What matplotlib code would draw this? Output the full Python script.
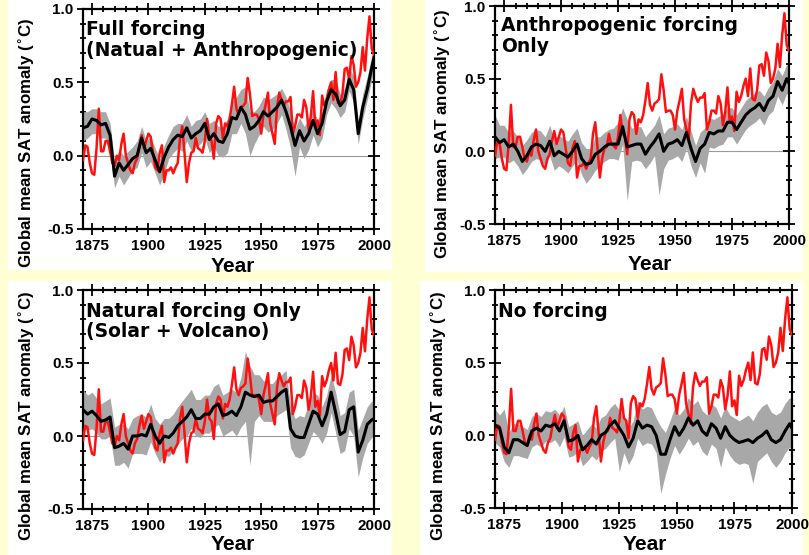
"""Observed vs simulated global mean surface air temperature, four forcing experiments."""
import matplotlib
matplotlib.use('Agg')
import matplotlib.pyplot as plt
from matplotlib.patches import Rectangle
from matplotlib.ticker import MultipleLocator, FormatStrFormatter
import numpy as np

W, H = 809, 555

# Observed annual anomalies (degC), 1871-2000
OBS_YEARS = np.arange(1871, 2001)
OBS = [
    -0.03, 0.07, 0.06, -0.05, -0.12, -0.13, 0.05, 0.32, 0.03, 0.03,
    0.10, 0.10, 0.03, -0.05, -0.07, 0.00, -0.03, 0.08, 0.15, 0.00,
    -0.05, -0.10, -0.12, -0.05, -0.02, 0.07, 0.14, 0.05, 0.10, 0.15,
    0.13, 0.02, -0.08, -0.10, 0.02, 0.07, -0.18, -0.10, -0.10, -0.08,
    -0.12, -0.08, -0.05, 0.12, 0.20, 0.02, -0.18, -0.05, 0.02, 0.03,
    0.12, 0.05, 0.04, 0.02, 0.10, 0.25, 0.12, 0.10, -0.02, 0.22,
    0.27, 0.25, 0.12, 0.22, 0.20, 0.25, 0.35, 0.47, 0.32, 0.28,
    0.33, 0.34, 0.36, 0.53, 0.42, 0.27, 0.28, 0.28, 0.25, 0.15,
    0.28, 0.35, 0.43, 0.22, 0.15, 0.08, 0.33, 0.43, 0.38, 0.34,
    0.37, 0.37, 0.40, 0.15, 0.20, 0.28, 0.28, 0.26, 0.38, 0.33,
    0.18, 0.27, 0.44, 0.20, 0.24, 0.14, 0.41, 0.34, 0.38, 0.45,
    0.50, 0.38, 0.57, 0.36, 0.35, 0.42, 0.59, 0.60, 0.52, 0.68,
    0.62, 0.47, 0.50, 0.57, 0.74, 0.58, 0.80, 0.95, 0.73, 0.69,
]

# Model ensemble mean and spread, sampled every other year
MODEL_YEARS = list(range(1871, 2000, 2)) + [2000]

FULL_MEAN = [
    0.19, 0.20, 0.25, 0.24, 0.21, 0.22, 0.14, -0.14, -0.05, -0.10,
    -0.06, -0.02, 0.00, 0.12, 0.02, 0.05, -0.03, -0.11, -0.01, 0.06,
    0.11, 0.14, 0.13, 0.19, 0.12, 0.15, 0.17, 0.22, 0.11, 0.15,
    0.10, 0.09, 0.15, 0.26, 0.25, 0.33, 0.28, 0.18, 0.20, 0.24,
    0.30, 0.27, 0.30, 0.33, 0.38, 0.30, 0.20, 0.07, 0.17, 0.10,
    0.15, 0.24, 0.15, 0.22, 0.37, 0.45, 0.42, 0.34, 0.38, 0.52,
    0.45, 0.15, 0.33, 0.45, 0.60, 0.67,
]
FULL_LO = [
    0.10, 0.12, 0.15, 0.15, 0.12, 0.12, 0.02, -0.22, -0.14, -0.20,
    -0.15, -0.10, -0.08, 0.02, -0.08, -0.04, -0.12, -0.20, -0.12, -0.02,
    0.02, 0.05, 0.03, 0.10, 0.03, 0.06, 0.08, 0.12, 0.02, 0.06,
    0.00, -0.01, 0.02, 0.15, 0.15, 0.22, 0.15, 0.00, 0.08, 0.14,
    0.20, 0.16, 0.18, 0.22, 0.28, 0.18, 0.05, -0.14, 0.06, -0.02,
    0.04, 0.14, 0.06, 0.12, 0.28, 0.36, 0.32, 0.26, 0.30, 0.44,
    0.36, 0.08, 0.25, 0.38, 0.52, 0.60,
]
FULL_HI = [
    0.30, 0.30, 0.32, 0.32, 0.30, 0.30, 0.22, -0.04, 0.04, 0.00,
    0.03, 0.06, 0.10, 0.20, 0.10, 0.13, 0.05, -0.02, 0.07, 0.14,
    0.20, 0.22, 0.22, 0.28, 0.20, 0.24, 0.25, 0.30, 0.22, 0.24,
    0.20, 0.20, 0.25, 0.36, 0.40, 0.45, 0.47, 0.30, 0.30, 0.34,
    0.40, 0.38, 0.40, 0.42, 0.46, 0.40, 0.30, 0.18, 0.26, 0.20,
    0.25, 0.32, 0.24, 0.30, 0.45, 0.52, 0.52, 0.42, 0.46, 0.60,
    0.54, 0.24, 0.42, 0.54, 0.68, 0.74,
]

ANTH_MEAN = [
    0.10, 0.06, 0.08, 0.03, 0.05, 0.00, -0.07, -0.03, 0.03, 0.05,
    0.04, 0.00, 0.07, -0.03, 0.00, -0.02, -0.04, 0.00, 0.05, -0.05,
    -0.09, -0.08, -0.02, 0.00, 0.03, 0.05, 0.05, 0.05, 0.17, 0.03,
    0.04, 0.05, 0.05, -0.02, 0.03, 0.07, 0.12, 0.00, 0.05, 0.06,
    0.08, 0.04, 0.13, 0.02, -0.07, 0.02, 0.05, 0.13, 0.12, 0.14,
    0.14, 0.20, 0.20, 0.15, 0.20, 0.25, 0.28, 0.30, 0.33, 0.28,
    0.35, 0.38, 0.48, 0.42, 0.50, 0.47,
]
ANTH_LO = [
    -0.05, -0.04, -0.04, -0.08, -0.06, -0.10, -0.16, -0.12, -0.07, -0.05,
    -0.06, -0.10, -0.03, -0.13, -0.10, -0.12, -0.15, -0.10, -0.06, -0.16,
    -0.22, -0.18, -0.13, -0.10, -0.07, -0.05, -0.05, -0.06, 0.05, -0.34,
    -0.07, -0.06, -0.07, -0.12, -0.08, -0.03, -0.30, -0.12, -0.06, -0.05,
    -0.03, -0.07, 0.02, -0.10, -0.18, -0.08, -0.15, 0.03, 0.02, 0.04,
    0.05, 0.10, 0.10, 0.05, 0.10, 0.15, 0.18, 0.20, 0.23, 0.18,
    0.25, 0.28, 0.38, 0.32, 0.40, 0.38,
]
ANTH_HI = [
    0.25, 0.18, 0.18, 0.13, 0.14, 0.10, 0.04, 0.08, 0.13, 0.15,
    0.14, 0.10, 0.18, 0.08, 0.11, 0.09, 0.07, 0.12, 0.16, 0.06,
    0.02, 0.02, 0.10, 0.10, 0.13, 0.15, 0.16, 0.20, 0.30, 0.22,
    0.16, 0.17, 0.17, 0.10, 0.14, 0.18, 0.25, 0.12, 0.16, 0.17,
    0.19, 0.15, 0.24, 0.14, 0.04, 0.13, 0.16, 0.23, 0.22, 0.24,
    0.25, 0.30, 0.30, 0.25, 0.30, 0.35, 0.38, 0.40, 0.42, 0.38,
    0.44, 0.48, 0.57, 0.52, 0.60, 0.56,
]

NAT_MEAN = [
    0.18, 0.15, 0.17, 0.14, 0.10, 0.11, 0.13, -0.08, -0.07, -0.05,
    -0.09, 0.00, 0.00, 0.01, 0.00, 0.08, 0.00, -0.05, 0.00, -0.01,
    0.02, 0.07, 0.10, 0.13, 0.18, 0.12, 0.12, 0.15, 0.15, 0.20,
    0.22, 0.14, 0.15, 0.17, 0.14, 0.20, 0.30, 0.28, 0.27, 0.28,
    0.23, 0.24, 0.24, 0.27, 0.30, 0.32, 0.05, 0.00, -0.01, -0.01,
    0.08, 0.17, 0.15, 0.07, 0.15, 0.30, 0.16, 0.01, 0.03, 0.18,
    0.20, -0.11, -0.03, 0.08, 0.11, 0.12,
]
NAT_LO = [
    0.05, 0.04, 0.05, 0.02, -0.02, -0.02, 0.00, -0.20, -0.20, -0.18,
    -0.22, -0.12, -0.12, -0.12, -0.13, -0.04, -0.12, -0.18, -0.13, -0.14,
    -0.10, -0.06, -0.02, 0.00, 0.05, 0.00, -0.01, 0.02, 0.02, 0.06,
    0.08, 0.00, 0.02, 0.04, 0.00, 0.06, 0.10, -0.20, 0.10, 0.14,
    0.10, 0.10, 0.10, 0.14, 0.16, 0.18, -0.08, -0.14, -0.15, -0.13,
    -0.05, 0.03, 0.00, -0.05, 0.02, 0.16, 0.02, -0.12, -0.10, 0.05,
    0.00, -0.28, -0.15, -0.05, -0.01, 0.00,
]
NAT_HI = [
    0.32, 0.28, 0.30, 0.26, 0.22, 0.24, 0.26, 0.06, 0.08, 0.08,
    0.05, 0.12, 0.14, 0.15, 0.13, 0.22, 0.12, 0.08, 0.12, 0.12,
    0.15, 0.20, 0.24, 0.28, 0.32, 0.25, 0.25, 0.28, 0.28, 0.34,
    0.36, 0.28, 0.30, 0.32, 0.30, 0.40, 0.58, 0.48, 0.42, 0.42,
    0.38, 0.36, 0.36, 0.40, 0.42, 0.45, 0.20, 0.12, 0.14, 0.13,
    0.22, 0.30, 0.28, 0.20, 0.28, 0.42, 0.30, 0.14, 0.16, 0.30,
    0.32, 0.04, 0.12, 0.20, 0.24, 0.22,
]

NONE_MEAN = [
    0.07, 0.05, -0.08, -0.12, -0.03, -0.03, -0.05, -0.07, 0.03, 0.05,
    0.03, 0.07, 0.06, 0.08, 0.03, 0.10, -0.04, -0.03, 0.00, -0.10,
    -0.07, -0.03, -0.06, 0.00, 0.02, 0.07, 0.10, 0.05, 0.00, -0.08,
    -0.02, 0.10, 0.05, 0.07, 0.06, 0.00, -0.13, -0.13, -0.03, 0.06,
    0.00, 0.05, 0.12, 0.07, 0.10, 0.03, 0.00, 0.08, 0.05, -0.02,
    0.06, 0.00, -0.03, -0.05, -0.04, -0.03, -0.05, -0.02, 0.00, 0.03,
    -0.03, -0.05, -0.03, 0.03, 0.08, 0.05,
]
NONE_LO = [
    -0.05, -0.08, -0.18, -0.22, -0.14, -0.14, -0.15, -0.16, -0.08, -0.06,
    -0.08, -0.04, -0.05, -0.03, -0.08, -0.01, -0.15, -0.14, -0.11, -0.21,
    -0.18, -0.14, -0.17, -0.11, -0.09, -0.05, -0.02, -0.25, -0.12, -0.20,
    -0.14, -0.02, -0.07, -0.05, -0.06, -0.12, -0.40, -0.27, -0.16, -0.07,
    -0.13, -0.08, -0.02, -0.07, -0.04, -0.11, -0.14, -0.06, -0.09, -0.22,
    -0.08, -0.14, -0.18, -0.20, -0.19, -0.20, -0.33, -0.18, -0.15, -0.12,
    -0.18, -0.22, -0.18, -0.12, -0.08, -0.12,
]
NONE_HI = [
    0.18, 0.14, 0.18, 0.02, 0.08, 0.08, 0.06, 0.04, 0.13, 0.15,
    0.13, 0.17, 0.16, 0.18, 0.14, 0.20, 0.06, 0.08, 0.10, 0.00,
    0.04, 0.08, 0.05, 0.12, 0.14, 0.19, 0.22, 0.17, 0.12, 0.05,
    0.10, 0.24, 0.18, 0.20, 0.19, 0.12, 0.06, 0.02, 0.10, 0.19,
    0.14, 0.18, 0.26, 0.21, 0.24, 0.17, 0.14, 0.22, 0.19, 0.12,
    0.20, 0.14, 0.12, 0.10, 0.12, 0.14, 0.10, 0.16, 0.20, 0.22,
    0.16, 0.14, 0.16, 0.22, 0.26, 0.24,
]

TITLES = [
    "Full forcing\n(Natual + Anthropogenic)",
    "Anthropogenic forcing\nOnly",
    "Natural forcing Only\n(Solar + Volcano)",
    "No forcing",
]

plt.rcParams['font.family'] = ['Liberation Sans', 'DejaVu Sans']
plt.rcParams['font.weight'] = 'bold'
plt.rcParams['axes.unicode_minus'] = False

BG = '#ffffd4'
BAND = '#a8a8a8'


def fx(px):
    return px / W


def fy(py):
    return 1 - py / H


def white_box(fig, x0, y0, x1, y1):
    fig.patches.append(Rectangle((fx(x0), fy(y1)), (x1 - x0) / W, (y1 - y0) / H,
                                 transform=fig.transFigure, facecolor='white',
                                 edgecolor='none', zorder=-10))


def draw_panel(fig, box, title, mean, lo, hi, ylab_x, ylab_y, year_xy, title_xy):
    left, top, right, bottom = box
    ax = fig.add_axes([fx(left), fy(bottom), (right - left) / W, (bottom - top) / H])
    ax.set_zorder(1)

    ax.axhline(0, color='#9a9a9a', lw=0.8, zorder=1)
    ax.fill_between(MODEL_YEARS, lo, hi, color=BAND, lw=0, zorder=2)
    ax.plot(OBS_YEARS, OBS, color='#ff1010', lw=1.8, zorder=3)
    ax.plot(MODEL_YEARS, mean, color='black', lw=2.2, zorder=4)

    ax.set_xlim(1871, 2000)
    ax.set_ylim(-0.5, 1.0)
    ax.xaxis.set_major_locator(MultipleLocator(25))
    ax.xaxis.set_minor_locator(MultipleLocator(5))
    ax.yaxis.set_major_locator(MultipleLocator(0.5))
    ax.yaxis.set_minor_locator(MultipleLocator(0.1))
    ax.yaxis.set_major_formatter(FormatStrFormatter('%.1f'))
    ax.tick_params(which='both', direction='inout', top=True, right=True,
                   width=1.3, labelsize=11)
    ax.tick_params(which='major', length=8, pad=3)
    ax.tick_params(which='minor', length=5)
    for s in ax.spines.values():
        s.set_linewidth(1.6)

    ax.text(fx(title_xy[0]), fy(title_xy[1]), title, transform=fig.transFigure,
            fontsize=13.5, fontweight='bold', family='DejaVu Sans',
            ha='left', va='top', linespacing=1.1, zorder=6)
    fig.text(fx(ylab_x), fy(ylab_y), 'Global mean SAT anomaly ($^{\\circ}$C)',
             fontsize=12.2, fontweight='bold', rotation=90, ha='center', va='center')
    fig.text(fx(year_xy[0]), fy(year_xy[1]), 'Year', fontsize=15,
             fontweight='bold', ha='center', va='center')
    return ax


fig = plt.figure(figsize=(W / 100, H / 100), dpi=100, facecolor=BG)

white_box(fig, 8, 0, 392, 270)
white_box(fig, 425, 0, 803, 272)
white_box(fig, 8, 281, 392, 555)
white_box(fig, 420, 281, 803, 555)

draw_panel(fig, (83, 9, 374, 229), TITLES[0], FULL_MEAN, FULL_LO, FULL_HI,
           27, 143, (233, 267), (86, 20))
draw_panel(fig, (495, 6, 789, 224), TITLES[1], ANTH_MEAN, ANTH_LO, ANTH_HI,
           443, 134, (650, 264), (501, 16))
draw_panel(fig, (83, 290, 374, 509), TITLES[2], NAT_MEAN, NAT_LO, NAT_HI,
           27, 416, (233, 545), (86, 302))
draw_panel(fig, (495, 290, 792, 508), TITLES[3], NONE_MEAN, NONE_LO, NONE_HI,
           439, 416, (645, 544), (498, 302))

fig.savefig('out.png', dpi=100, facecolor=BG)
plt.close('all')
